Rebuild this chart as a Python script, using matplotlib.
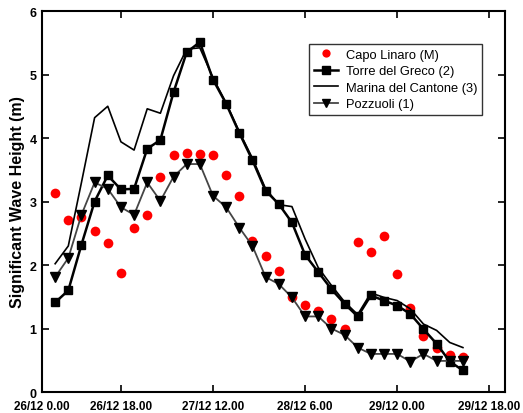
import numpy as np
import matplotlib
matplotlib.use("Agg")
import matplotlib.pyplot as plt

# values, one per time step
capo_linaro = [3.13, 2.71, 2.75, 2.54, 2.35, 1.88, 2.59, 2.78, 3.38, 3.74, 3.77, 3.75,
               3.74, 3.42, 3.08, 2.38, 2.14, 1.91, 1.49, 1.37, 1.27, 1.15, 0.99, 2.37,
               2.21, 2.46, 1.86, 1.32, 0.88, 0.70, 0.58, 0.55]
torre_del_greco = [1.41, 1.60, 2.32, 3.00, 3.41, 3.19, 3.20, 3.83, 3.97, 4.72, 5.35, 5.51,
                   4.92, 4.54, 4.08, 3.65, 3.17, 2.96, 2.67, 2.16, 1.89, 1.62, 1.39, 1.19,
                   1.52, 1.44, 1.36, 1.23, 0.99, 0.76, 0.48, 0.34]
marina_del_cantone = [2.02, 2.30, 3.30, 4.32, 4.50, 3.94, 3.81, 4.46, 4.39, 4.98, 5.40, 5.42,
                      4.95, 4.55, 4.10, 3.68, 3.20, 2.95, 2.92, 2.41, 1.96, 1.68, 1.42, 1.22,
                      1.56, 1.49, 1.44, 1.31, 1.07, 0.97, 0.78, 0.70]
pozzuoli = [1.81, 2.11, 2.79, 3.30, 3.20, 2.91, 2.79, 3.30, 3.01, 3.39, 3.59, 3.59,
            3.09, 2.91, 2.59, 2.30, 1.81, 1.70, 1.49, 1.19, 1.19, 1.00, 0.90, 0.70,
            0.60, 0.60, 0.60, 0.48, 0.60, 0.49, 0.49, 0.49]

tick_pos = [-1, 5, 12, 19, 26, 33]
tick_labels = ["26/12 0.00", "26/12 18.00", "27/12 12.00", "28/12 6.00",
               "29/12 0.00", "29/12 18.00"]

plt.rcParams["font.family"] = ["Liberation Sans", "DejaVu Sans"]

x = np.arange(len(torre_del_greco))

fig = plt.figure(figsize=(5.23, 4.14), dpi=100)
ax = fig.add_axes([0.0803, 0.0507, 0.8853, 0.9203])

ax.plot(x, capo_linaro, "o", color="red", markersize=7, markeredgewidth=0,
        label="Capo Linaro (M)")
ax.plot(x, torre_del_greco, "-s", color="black", lw=1.8, markersize=6,
        label="Torre del Greco (2)")
ax.plot(x, marina_del_cantone, "-", color="black", lw=1.2,
        label="Marina del Cantone (3)")
ax.plot(x, pozzuoli, "-v", color="#454545", lw=1.3, markersize=7.5,
        markerfacecolor="black", markeredgecolor="black",
        label="Pozzuoli (1)")

ax.set_xlim(-1, 34.2)
ax.set_ylim(0, 6)
ax.set_xticks(tick_pos)
ax.set_xticklabels(tick_labels, fontsize=8.5, fontweight="bold")
ax.set_yticks(range(7))
ax.set_yticklabels([str(v) for v in range(7)], fontsize=9, fontweight="bold")
ax.tick_params(direction="in", length=5, width=1.2, top=True, right=True, pad=4)
ax.tick_params(axis="x", pad=5.5)
for s in ax.spines.values():
    s.set_linewidth(1.5)

ax.set_ylabel("Significant Wave Height (m)", fontsize=11.5, fontweight="bold", labelpad=3)

leg = ax.legend(loc="upper left", bbox_to_anchor=(309 / 523, 1 - 45 / 414),
                bbox_transform=fig.transFigure, fontsize=9.3, numpoints=1,
                frameon=True, fancybox=False, handlelength=1.9, handletextpad=0.6,
                labelspacing=0.35, borderpad=0.35, borderaxespad=0, markerscale=0.85)
leg.get_frame().set_edgecolor("black")
leg.get_frame().set_linewidth(1.0)

fig.savefig("out.png", dpi=100)
